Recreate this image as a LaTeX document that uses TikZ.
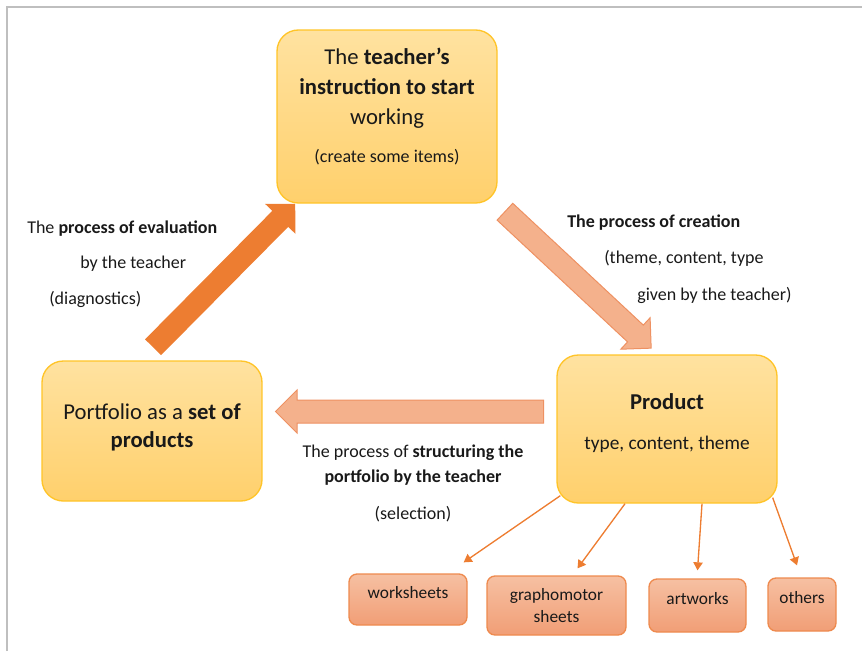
\documentclass[tikz,border=0pt]{standalone}
\usepackage{fontspec}
\setmainfont{Carlito}
\usepackage{tikz}
\usetikzlibrary{positioning, arrows.meta, calc, shapes.arrows}
\definecolor{boxtop}{RGB}{255,226,160}
\definecolor{boxbot}{RGB}{255,208,108}
\definecolor{boxline}{RGB}{255,196,40}
\definecolor{itemtop}{RGB}{246,192,162}
\definecolor{itembot}{RGB}{241,158,118}
\definecolor{itemline}{RGB}{238,138,78}
\definecolor{deeporange}{RGB}{237,125,49}
\definecolor{softorange}{RGB}{244,177,140}
\definecolor{softline}{RGB}{238,145,98}
\definecolor{framegray}{RGB}{191,191,191}
\definecolor{darktext}{RGB}{25,25,25}

\begin{document}
\begin{tikzpicture}[x=0.75pt, y=-0.75pt,
  bigbox/.style={
    rectangle, rounded corners=16pt, draw=boxline, line width=1pt,
    top color=boxtop, bottom color=boxbot, minimum width=165pt,
    align=center, text=darktext, font=\fontsize{17}{22.5}\selectfont,
    inner sep=0pt
  },
  itembox/.style={
    rectangle, rounded corners=6pt, draw=itemline, line width=1pt,
    top color=itemtop, bottom color=itembot, minimum height=39.75pt,
    align=center, text=darktext, font=\fontsize{13}{16.5}\selectfont,
    inner sep=0pt
  },
  lbl/.style={text=darktext, inner sep=0pt},
  bigarr/.style={
    single arrow, single arrow head extend=7.5pt, minimum width=31.5pt,
    text height=8.25pt, text depth=8.25pt,
    inner sep=0pt, sloped, allow upside down
  },
  thinarr/.style={-{Triangle[length=6pt, width=7pt]}, deeporange, line width=1pt}
]
\useasboundingbox (0,0) rectangle (862,651);

% frame
\draw[framegray, line width=1.5pt] (7,651) -- (7,7) -- (862,7);

% main boxes
\node[bigbox, minimum height=129.75pt, text depth=16.5pt] (teach) at (387,116.5) {
  The \textbf{teacher's}\\
  \textbf{instruction to start}\\
  working\\[6pt]
  {\fontsize{13.5}{16}\selectfont (create some items)}
};

\node[bigbox, minimum height=105pt, text depth=8.3pt] (port) at (152,431) {
  Portfolio as a \textbf{set of}\\[-1.5pt]
  \textbf{products}
};

\node[bigbox, minimum height=111pt, text depth=11.3pt] (prod) at (667,429) {
  \textbf{Product}\\[7.5pt]
  {\fontsize{14.5}{17}\selectfont type, content, theme}
};

% product items
\node[itembox, minimum width=88.5pt, minimum height=38.25pt, text depth=10pt] (ws) at (408,599.5) {worksheets};
\node[itembox, minimum width=104.25pt, minimum height=44.25pt] (gs) at (556.5,605.5) {graphomotor\\ sheets};
\node[itembox, minimum width=72.75pt, text depth=10pt] (art) at (697.5,605.5) {artworks};
\node[itembox, minimum width=51pt, text depth=10pt] (oth) at (802,604.5) {others};

% process labels
\node[lbl, align=left, anchor=north west, font=\fontsize{13.5}{26.6}\selectfont] (evtxt) at (27,220.5) {
  The \textbf{process of evaluation}\\
  \hspace*{39.75pt}by the teacher\\
  \hspace*{16.5pt}(diagnostics)
};

\node[lbl, align=left, anchor=north west, font=\fontsize{13.5}{27.4}\selectfont] (crtxt) at (567,214.5) {
  \textbf{The process of creation}\\
  \hspace*{27.75pt}(theme, content, type\\
  \hspace*{52.5pt}given by the teacher)
};

\node[lbl, align=center, anchor=north, font=\fontsize{13.5}{18.75}\selectfont] (sttxt) at (413,444.5) {
  The process of \textbf{structuring the}\\
  \textbf{portfolio by the teacher}\\[9pt]
  (selection)
};

% block arrows
\coordinate (evA) at ($(port.north)+(-3,-9)$);
\coordinate (evB) at ($(teach.south west)+(15,4)$);
\coordinate (crA) at ($(teach.south east)+(4,5)$);
\coordinate (crB) at ($(prod.north)+(-21,-11)$);
\coordinate (stA) at ($(prod.west)+(-7.5,-17.5)$);
\coordinate (stB) at ($(port.east)+(19,-19.5)$);

\path (evA) -- node[bigarr, fill=deeporange, minimum height=151.5pt] {} (evB);
\path (crA) -- node[bigarr, fill=softorange, draw=softline, line width=0.75pt, minimum height=150pt] {} (crB);
\path (stA) -- node[bigarr, fill=softorange, draw=softline, line width=0.75pt, minimum height=201pt] {} (stB);

% item arrows
\draw[thinarr] ($(prod.south west)+(4,-8)$) -- ($(ws.north east)+(-4,-11)$);
\draw[thinarr] ($(prod.south)+(-42,0)$) -- ($(gs.north)+(21,-7)$);
\draw[thinarr] ($(prod.south)+(35,0)$) -- ($(art.north)+(0,-8)$);
\draw[thinarr] ($(prod.south east)+(-5,-6)$) -- ($(oth.north)+(-5,-12)$);

\end{tikzpicture}
\end{document}
